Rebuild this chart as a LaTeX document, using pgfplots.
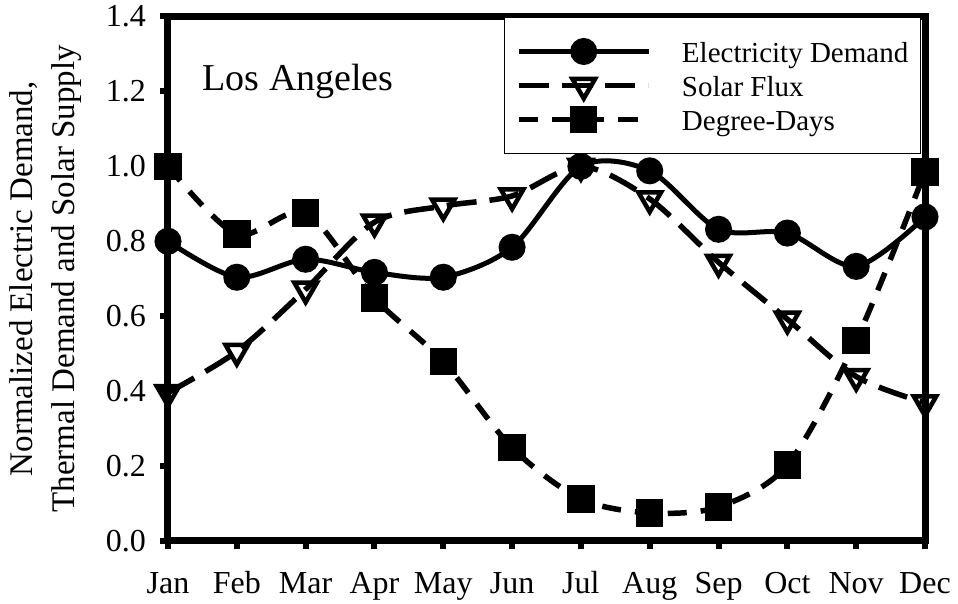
\documentclass[border=0pt]{standalone}
\usepackage{fontspec}
\setmainfont{Liberation Serif}
\usepackage{pgfplots}
\usepackage{pgfplotstable}
\pgfplotsset{compat=1.18}

% month index, electricity demand, solar flux, degree-days (normalised)
\pgfplotstableread{
m    elec   solar  dd
0    0.800  0.396  1.000
1    0.704  0.506  0.819
2    0.752  0.672  0.875
3    0.717  0.851  0.648
4    0.704  0.894  0.479
5    0.784  0.921  0.249
6    1.000  1.000  0.112
7    0.988  0.913  0.075
8    0.832  0.744  0.091
9    0.822  0.592  0.203
10   0.733  0.439  0.535
11   0.865  0.369  0.985
}\losangeles

\begin{document}
\begin{tikzpicture}
    \begin{axis}
        [
            scale only axis,
            width=757pt,
            height=524.5pt,
            xmin=0, xmax=11,
            ymin=0, ymax=1.4,
            clip=false,
            xtick={0,...,11},
            xticklabels={Jan,Feb,Mar,Apr,May,Jun,Jul,Aug,Sep,Oct,Nov,Dec},
            ytick={0,0.2,0.4,0.6,0.8,1.0,1.2,1.4},
            /pgf/number format/fixed,
            /pgf/number format/fixed zerofill,
            /pgf/number format/precision=1,
            /pgf/number format/assume math mode=true,
            tick align=outside,
            tick pos=left,
            major tick length=8pt,
            tick style={black, line width=6pt},
            axis line style={line width=7pt},
            ticklabel style={font=\fontsize{32}{38}\selectfont},
            yticklabel style={inner sep=0pt, xshift=-14pt},
            xticklabel style={inner sep=0pt, anchor=north, text height=22pt, text depth=7pt, yshift=-22pt},
            ylabel={Normalized Electric Demand,\\Thermal Demand and Solar Supply},
            ylabel style={
                at={(axis description cs:-0.1133,0.5)},
                anchor=south, inner sep=0pt, align=center,
                font=\fontsize{33}{42}\selectfont
            },
            legend style={
                at={(rel axis cs:1,1)}, xshift=-4pt,
                anchor=north east,
                draw=black, line width=1.5pt,
                font=\fontsize{29}{30}\selectfont,
                inner xsep=12pt, inner ysep=21pt,
                row sep=7.5pt, column sep=31pt,
                nodes={inner sep=0pt, text height=24pt, text depth=2.5pt}
            },
            legend cell align=left,
            legend image code/.code={
                \draw[mark repeat=2, mark phase=2, #1]
                    plot coordinates {(0pt,0pt) (64.5pt,0pt) (129pt,0pt)};
            }
        ]
        \addplot [black, line width=5pt, smooth, mark=*, mark size=11pt,
                  mark options={solid}]
            table [x=m, y=elec] {\losangeles};
        \addlegendentry{Electricity Demand}
        \addplot [black, line width=5.5pt, smooth, dash pattern=on 30pt off 13pt,
                  mark=triangle, mark size=13pt,
                  mark options={solid, rotate=180, fill=white, line width=4.5pt}]
            table [x=m, y=solar] {\losangeles};
        \addlegendentry{Solar Flux}
        \addplot [black, line width=5.5pt, smooth, dash pattern=on 19pt off 14pt,
                  mark=square*, mark size=11pt, mark options={solid}]
            table [x=m, y=dd] {\losangeles};
        \addlegendentry{Degree-Days}
        \node [anchor=base west, inner sep=0pt, font=\fontsize{38}{40}\selectfont]
            at (axis cs:0.50,1.203) {Los Angeles};
    \end{axis}
    \path (current axis.south west) ++(-168pt,-63pt) rectangle ++(958pt,604pt);
\end{tikzpicture}
\end{document}
